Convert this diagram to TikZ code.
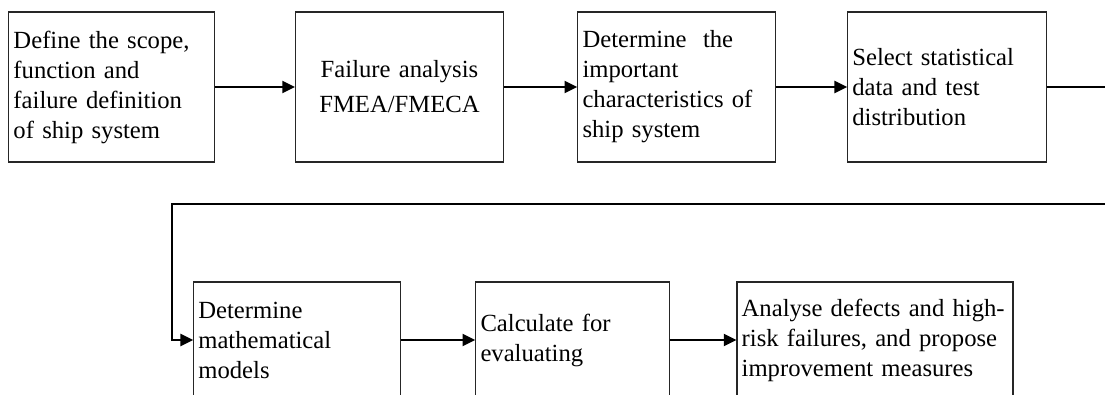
\documentclass[tikz,border=0pt]{standalone}
\usepackage{fontspec}
\setmainfont{Liberation Serif}
\usetikzlibrary{arrows.meta}
\begin{document}
\begin{tikzpicture}[x=0.75pt, y=-0.75pt]
    \tikzset{
        procbox/.style={draw=black!85, line width=0.8pt, inner xsep=3.5pt, inner ysep=0pt,
            align=left, font=\fontsize{18.5}{22.5}\selectfont, minimum height=112.5pt},
        flow/.style={line width=1.5pt, -{Triangle[length=9.5pt, width=9pt]}}
    }
    \useasboundingbox (0,0) rectangle (1105,394);
    \clip (0,0) rectangle (1105,394);

    \node[procbox, text width=147pt] (define) at (111.5,87)
        {Define the scope,\\function and\\failure definition\\of ship system};
    \node[procbox, text width=149pt, align=center, font=\fontsize{18.5}{26.25}\selectfont] (fmea) at (399.5,87)
        {Failure analysis\\FMEA/FMECA};
    \node[procbox, text width=141pt] (charac) at (676.5,87)
        {Determine\ \ the\\important\\characteristics of\\ship system};
    \node[procbox, text width=142pt] (select) at (947,87)
        {Select statistical\\data and test\\distribution};

    \node[procbox, text width=148pt, minimum height=87pt] (model) at (297,340)
        {Determine\\mathematical\\models};
    \node[procbox, text width=138pt, minimum height=87pt] (calc) at (572.5,340)
        {Calculate for\\evaluating};
    \node[procbox, text width=200pt, minimum height=87pt] (improve) at (875,340)
        {Analyse defects and high-\\risk failures, and propose\\improvement measures};

    \coordinate (turn) at (1115,204);
    \coordinate (back) at (172,204);

    \draw[flow] (define) -- (fmea);
    \draw[flow] (fmea) -- (charac);
    \draw[flow] (charac) -- (select);
    \draw[flow] (select.east) -| (turn) -- (back) |- (model.west);
    \draw[flow] (model) -- (calc);
    \draw[flow] (calc) -- (improve);
\end{tikzpicture}
\end{document}
